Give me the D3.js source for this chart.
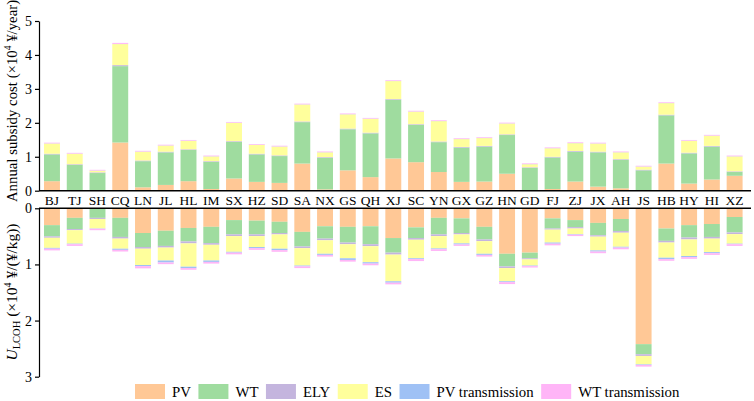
<!DOCTYPE html>
<html>
<head>
<meta charset="utf-8">
<script src="https://cdn.jsdelivr.net/npm/d3@7"></script>
<style>
  body { margin: 0; background: #fff; }
  svg { font-family: "Liberation Serif", "Times New Roman", serif; }
</style>
</head>
<body>
<svg id="chart" width="754" height="401"></svg>
<script>
// provinces
var cats = ["BJ","TJ","SH","CQ","LN","JL","HL","IM","SX","HZ","SD","SA","NX","GS","QH",
            "XJ","SC","YN","GX","GZ","HN","GD","FJ","ZJ","JX","AH","JS","HB","HY","HI","XZ"];

// top panel: annual subsidy cost (x10^4 yuan/year)
var topPV  = [0.28,0.02,0.00,1.42,0.10,0.17,0.28,0.05,0.36,0.26,0.23,0.80,0.04,0.60,0.40,
              0.95,0.84,0.55,0.26,0.27,0.50,0.01,0.05,0.27,0.12,0.07,0.00,0.80,0.21,0.33,0.44];
var topWT  = [0.79,0.74,0.52,2.25,0.77,0.96,0.92,0.80,1.08,0.81,0.79,1.22,0.93,1.21,1.29,
              1.73,1.10,0.88,1.01,1.03,1.14,0.66,0.93,0.88,1.01,0.84,0.60,1.42,0.89,0.97,0.11];
var topELY = [0.02,0.02,0.02,0.03,0.02,0.02,0.02,0.02,0.02,0.02,0.02,0.02,0.02,0.02,0.02,
              0.02,0.02,0.02,0.02,0.02,0.02,0.02,0.02,0.02,0.02,0.02,0.02,0.02,0.02,0.02,0.02];
var topES  = [0.30,0.31,0.05,0.62,0.26,0.18,0.25,0.14,0.54,0.26,0.26,0.50,0.14,0.42,0.41,
              0.53,0.37,0.60,0.23,0.23,0.32,0.09,0.25,0.23,0.24,0.20,0.09,0.34,0.35,0.30,0.44];
var topPVt = [0.005,0.005,0.005,0.005,0.005,0.005,0.005,0.005,0.005,0.005,0.005,0.005,0.005,0.005,0.005,
              0.005,0.005,0.005,0.005,0.005,0.005,0.005,0.005,0.005,0.005,0.005,0.005,0.005,0.005,0.005,0.005];
var topWTt = [0.02,0.02,0.02,0.03,0.02,0.02,0.02,0.02,0.02,0.02,0.02,0.02,0.02,0.02,0.02,
              0.02,0.02,0.02,0.02,0.02,0.02,0.02,0.02,0.02,0.02,0.02,0.02,0.02,0.02,0.02,0.02];

// bottom panel: U_LCOH (x10^4 yuan/(yuan/kg))
var botPV  = [0.30,0.17,0.00,0.17,0.44,0.40,0.35,0.33,0.21,0.22,0.24,0.42,0.32,0.33,0.32,
              0.53,0.34,0.17,0.18,0.33,0.81,0.79,0.18,0.21,0.26,0.19,2.42,0.36,0.30,0.28,0.155];
var botWT  = [0.20,0.20,0.17,0.34,0.25,0.27,0.24,0.29,0.255,0.245,0.20,0.26,0.22,0.28,0.32,
              0.26,0.19,0.295,0.26,0.225,0.225,0.10,0.18,0.125,0.22,0.215,0.18,0.22,0.22,0.23,0.275];
var botELY = [0.025,0.02,0.02,0.03,0.03,0.03,0.035,0.03,0.03,0.03,0.025,0.03,0.03,0.03,0.035,
              0.035,0.03,0.03,0.025,0.03,0.03,0.02,0.02,0.025,0.025,0.03,0.03,0.03,0.035,0.03,0.03];
var botES  = [0.18,0.24,0.17,0.18,0.29,0.23,0.415,0.28,0.28,0.195,0.255,0.31,0.24,0.25,0.285,
              0.475,0.33,0.22,0.16,0.225,0.235,0.11,0.23,0.10,0.245,0.25,0.15,0.27,0.295,0.24,0.17];
var botPVt = [0.015,0.01,0.005,0.02,0.02,0.035,0.025,0.025,0.015,0.02,0.025,0.015,0.02,0.03,0.025,
              0.025,0.015,0.015,0.02,0.02,0.015,0.01,0.02,0.01,0.02,0.015,0.01,0.025,0.02,0.02,0.01];
var botWTt = [0.03,0.03,0.025,0.03,0.04,0.03,0.03,0.03,0.03,0.03,0.03,0.03,0.03,0.03,0.03,
              0.03,0.035,0.03,0.025,0.03,0.035,0.025,0.03,0.025,0.03,0.03,0.03,0.03,0.03,0.03,0.03];

var keys = ["PV","WT","ELY","ES","PV transmission","WT transmission"];
var colors = ["#ffc896","#9fdc9f","#c4b5de","#ffff9c","#9fc1f5","#ffb5f7"];

var svg = d3.select("#chart");
var color = d3.scaleOrdinal().domain(keys).range(colors);

var x = d3.scaleBand().domain(cats).range([40.6, 746]).paddingInner(0.3).paddingOuter(0.15);
var yTop = d3.scaleLinear().domain([0, 5]).range([190.7, 21]);
var yBot = d3.scaleLinear().domain([0, 3]).range([208.3, 376.7]);

function rows(a){
  return cats.map(function(c, i){
    return {cat: c, "PV": a[0][i], "WT": a[1][i], "ELY": a[2][i], "ES": a[3][i],
            "PV transmission": a[4][i], "WT transmission": a[5][i]};
  });
}
var topRows = rows([topPV, topWT, topELY, topES, topPVt, topWTt]);
var botRows = rows([botPV, botWT, botELY, botES, botPVt, botWTt]);
var stack = d3.stack().keys(keys);

function drawBars(data, y){
  svg.append("g").selectAll("g")
    .data(stack(data)).join("g")
      .attr("fill", function(d){ return color(d.key); })
    .selectAll("rect")
    .data(function(d){ return d; }).join("rect")
      .attr("x", function(d){ return x(d.data.cat); })
      .attr("width", x.bandwidth())
      .attr("y", function(d){ return Math.min(y(d[0]), y(d[1])); })
      .attr("height", function(d){ return Math.abs(y(d[1]) - y(d[0])); });
}
drawBars(topRows, yTop);
drawBars(botRows, yBot);

// axes
function styleAxis(g){
  g.selectAll("text").attr("font-size", 14).attr("fill", "#000")
    .attr("font-family", "Liberation Serif, serif");
  g.selectAll("path,line").attr("stroke", "#000").attr("stroke-width", 1.2);
}
svg.append("g").attr("transform", "translate(39,0)")
  .call(d3.axisLeft(yTop).ticks(5).tickSize(4).tickSizeOuter(0).tickPadding(3))
  .call(styleAxis);
svg.append("g").attr("transform", "translate(39,0)")
  .call(d3.axisLeft(yBot).ticks(3).tickSize(4).tickSizeOuter(0).tickPadding(3))
  .call(styleAxis);

// baselines
svg.append("line").attr("x1", 39).attr("x2", 751)
  .attr("y1", yTop(0)).attr("y2", yTop(0)).attr("stroke", "#000").attr("stroke-width", 1.5);
svg.append("line").attr("x1", 39).attr("x2", 751)
  .attr("y1", yBot(0)).attr("y2", yBot(0)).attr("stroke", "#000").attr("stroke-width", 1.5);

// province labels between panels
svg.append("g").selectAll("text").data(cats).join("text")
  .attr("x", function(d){ return x(d) + x.bandwidth() / 2; })
  .attr("y", 204.5)
  .attr("text-anchor", "middle")
  .attr("font-size", 13.5)
  .text(function(d){ return d; });

// y titles
var t1 = svg.append("text")
  .attr("transform", "translate(17," + 101 + ") rotate(-90)")
  .attr("text-anchor", "middle")
  .attr("font-size", 14.8);
t1.append("tspan").text("Annual subsidy cost (\u00d710");
t1.append("tspan").attr("font-size", 9.5).attr("dy", -6).text("4");
t1.append("tspan").attr("dy", 6).text(" \u00a5/year)");

var t2 = svg.append("text")
  .attr("transform", "translate(17," + 292 + ") rotate(-90)")
  .attr("text-anchor", "middle")
  .attr("font-size", 15.5);
t2.append("tspan").attr("font-style", "italic").text("U");
t2.append("tspan").attr("font-size", 10.5).attr("dy", 3).text("LCOH");
t2.append("tspan").attr("dy", -3).text(" (\u00d710");
t2.append("tspan").attr("font-size", 10).attr("dy", -6).text("4");
t2.append("tspan").attr("dy", 6).text(" \u00a5/(\u00a5/kg))");

// legend
var lx = 135;
keys.forEach(function(k){
  svg.append("rect").attr("x", lx).attr("y", 384).attr("width", 30).attr("height", 15)
    .attr("fill", color(k));
  var t = svg.append("text").attr("x", lx + 37).attr("y", 397).attr("font-size", 14.8).text(k);
  lx = lx + 37 + t.node().getComputedTextLength() + 7.5;
});
</script>
</body>
</html>
